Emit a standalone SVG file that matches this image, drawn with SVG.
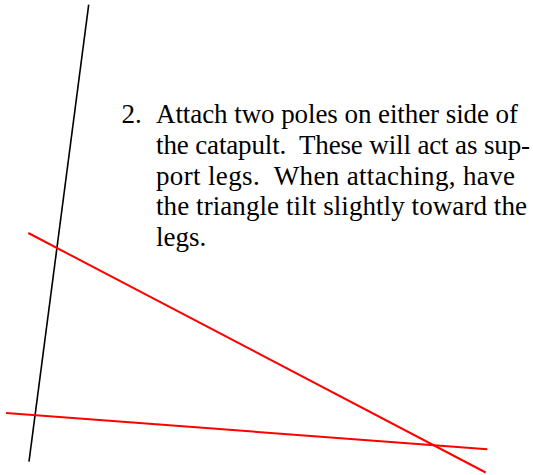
<svg xmlns="http://www.w3.org/2000/svg" width="533" height="475" viewBox="0 0 533 475">
<style>
.t{font-family:"Liberation Serif","Times New Roman",serif;font-size:27px;fill:#000;white-space:pre}
.red{stroke:#ff0000;stroke-width:2;fill:none}
.blk{stroke:#000;stroke-width:1.6;fill:none}
</style>
<rect width="533" height="475" fill="#fff"/>
<g id="connectors">
<line class="blk" x1="88.7" y1="4.7" x2="29" y2="461.7"/>
<line class="red" x1="28.3" y1="233" x2="485.7" y2="472.5"/>
<line class="red" x1="6" y1="413" x2="487.3" y2="449.3"/>
</g>
<g id="text" xml:space="preserve">
<text class="t" x="121.5" y="123">2.</text>
<text class="t" x="156" y="123" textLength="362" lengthAdjust="spacing">Attach two poles on either side of</text>
<text class="t" x="156" y="154" textLength="374" lengthAdjust="spacing">the catapult.  These will act as sup-</text>
<text class="t" x="156" y="185" textLength="359" lengthAdjust="spacing">port legs.  When attaching, have</text>
<text class="t" x="156" y="215" textLength="371" lengthAdjust="spacing">the triangle tilt slightly toward the</text>
<text class="t" x="156" y="246">legs.</text>
</g>
</svg>
